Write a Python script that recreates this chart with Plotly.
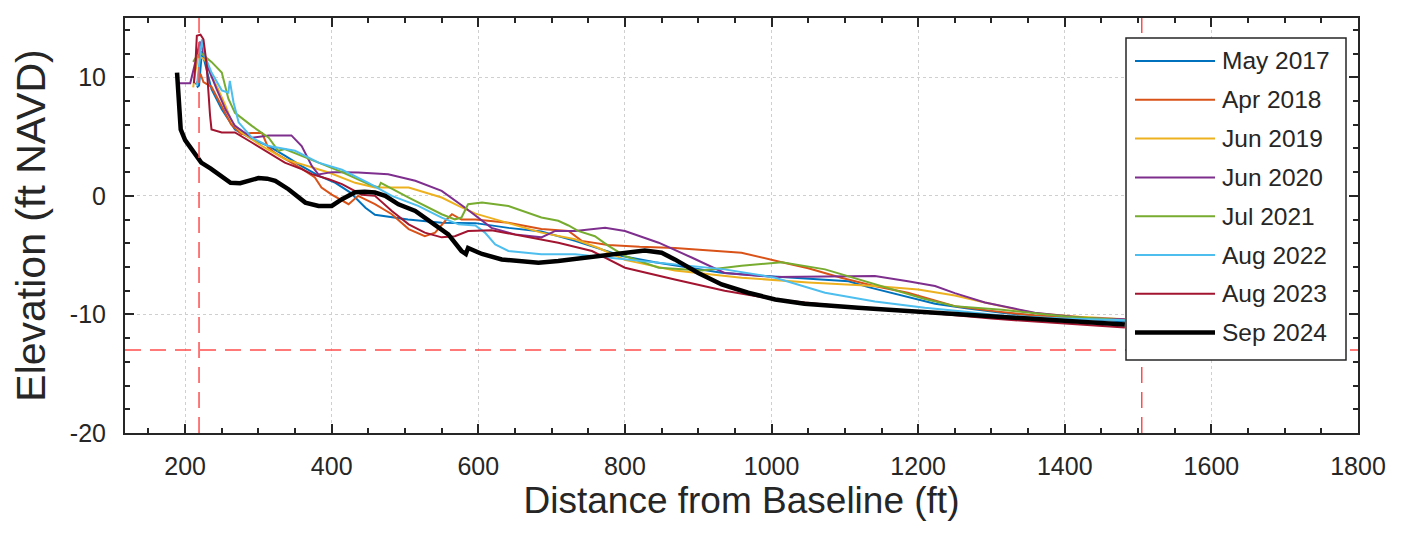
import plotly.graph_objects as go

# ---------------- data ----------------
names = ["May 2017", "Apr 2018", "Jun 2019", "Jun 2020", "Jul 2021", "Aug 2022", "Aug 2023", "Sep 2024"]
colors = ["#0072BD", "#D95319", "#EDB120", "#7E2F8E", "#77AC30", "#4DBEEE", "#A2142F", "#000000"]

may2017_x = [216, 219, 223, 228, 236, 250, 268, 291, 314, 336, 359, 382, 405, 425, 436, 446, 459, 482, 504, 550, 596, 641, 686, 732, 777, 796, 841, 886, 932, 977, 1023, 1060, 1105, 1132, 1159, 1223, 1268, 1314, 1359, 1405, 1445, 1482]
may2017_y = [9.15, 9.3, 12.2, 11.0, 9.0, 7.3, 5.6, 4.8, 4.2, 3.4, 2.5, 1.7, 1.1, 0.3, -0.4, -1.0, -1.6, -1.8, -2.0, -2.26, -2.3, -2.7, -3.0, -3.8, -4.65, -5.07, -5.6, -6.06, -6.48, -6.7, -6.9, -7.0, -7.2, -7.7, -8.1, -9.1, -9.5, -9.86, -10.1, -10.3, -10.45, -10.6]

apr2018_x = [214, 218, 221, 225, 236, 250, 263, 277, 290, 305, 313, 323, 340, 359, 377, 386, 400, 414, 423, 436, 459, 482, 505, 527, 541, 555, 564, 577, 596, 641, 686, 723, 741, 777, 820, 868, 914, 959, 1014, 1050, 1095, 1140, 1186, 1250, 1300, 1359, 1420, 1482]
apr2018_y = [9.4, 9.7, 10.3, 9.6, 9.2, 7.5, 6.0, 5.2, 5.3, 5.3, 4.1, 3.6, 3.0, 2.3, 1.55, 0.7, 0.1, -0.42, -0.7, 0.0, -0.7, -1.55, -2.8, -3.4, -3.1, -2.1, -1.55, -2.0, -2.0, -2.26, -2.8, -2.96, -3.8, -4.15, -4.3, -4.4, -4.6, -4.8, -5.6, -6.1, -6.9, -7.6, -8.17, -9.3, -9.7, -10.1, -10.3, -10.5]

jun2019_x = [211, 214, 218, 227, 236, 245, 255, 264, 277, 305, 336, 368, 396, 432, 459, 505, 550, 573, 596, 641, 686, 732, 764, 800, 868, 959, 1050, 1141, 1200, 1250, 1291, 1359, 1420, 1482]
jun2019_y = [9.15, 10.5, 11.8, 11.5, 10.1, 9.0, 7.6, 6.2, 5.35, 4.2, 3.1, 2.5, 1.97, 1.1, 0.7, 0.7, -0.14, -0.85, -1.5, -2.3, -3.1, -3.66, -4.4, -5.4, -6.3, -6.9, -7.3, -7.6, -7.9, -8.4, -9.0, -9.9, -10.2, -10.4]

jun2020_x = [189, 200, 207, 214, 220, 226, 232, 243, 255, 268, 291, 314, 345, 359, 373, 382, 400, 414, 436, 477, 514, 550, 582, 618, 650, 686, 705, 732, 773, 800, 846, 891, 936, 1005, 1095, 1141, 1186, 1223, 1250, 1291, 1359, 1427, 1482]
jun2020_y = [9.5, 9.5, 9.5, 11.3, 13.0, 12.0, 10.7, 9.0, 7.3, 5.9, 4.9, 5.1, 5.1, 4.2, 2.5, 1.8, 2.0, 2.0, 1.97, 1.83, 1.27, 0.42, -1.0, -2.7, -3.25, -3.5, -2.96, -2.96, -2.7, -2.96, -3.95, -5.2, -6.5, -6.85, -6.8, -6.76, -7.2, -7.6, -8.2, -9.0, -9.86, -10.3, -10.4]

jul2021_x = [211, 216, 222, 236, 250, 259, 268, 291, 314, 327, 336, 359, 382, 414, 450, 464, 467, 505, 550, 568, 577, 586, 605, 641, 686, 709, 723, 736, 759, 777, 800, 846, 905, 959, 1014, 1073, 1141, 1209, 1250, 1314, 1405, 1482]
jul2021_y = [11.3, 11.8, 12.0, 11.3, 10.4, 8.2, 7.0, 5.9, 4.9, 3.8, 3.95, 3.4, 2.8, 2.0, 0.99, 0.7, 1.1, -0.14, -1.55, -1.98, -1.83, -0.71, -0.57, -0.85, -1.83, -2.1, -2.5, -2.96, -3.4, -4.2, -5.07, -6.06, -6.3, -5.9, -5.6, -6.2, -7.47, -8.7, -9.3, -9.6, -10.2, -10.5]

aug2022_x = [216, 219, 223, 227, 236, 250, 259, 261, 266, 273, 291, 314, 350, 382, 414, 450, 482, 518, 550, 573, 596, 609, 623, 641, 686, 732, 777, 868, 936, 1005, 1073, 1141, 1209, 1268, 1314, 1400, 1482]
aug2022_y = [9.3, 11.0, 13.2, 11.8, 10.4, 8.9, 8.7, 9.7, 7.9, 6.2, 4.9, 4.2, 3.8, 2.8, 2.2, 1.1, 0.0, -0.85, -1.83, -2.4, -2.5, -3.1, -4.1, -4.65, -4.93, -4.93, -5.2, -5.8, -6.2, -6.9, -8.17, -8.9, -9.44, -9.8, -10.1, -10.35, -10.5]

aug2023_x = [212, 214, 216, 221, 225, 229, 234, 236, 250, 268, 291, 314, 336, 359, 373, 396, 414, 441, 459, 482, 505, 527, 550, 568, 586, 618, 664, 709, 755, 800, 868, 936, 1005, 1095, 1186, 1250, 1300, 1359, 1420, 1482]
aug2023_y = [9.5, 11.0, 13.5, 13.6, 13.2, 11.3, 6.8, 5.6, 5.35, 5.35, 4.5, 3.66, 2.8, 2.25, 1.83, 1.4, 0.99, 0.1, 0.0, -1.27, -2.4, -3.1, -3.5, -3.4, -2.96, -2.9, -3.4, -3.95, -4.65, -6.06, -7.05, -8.0, -8.74, -9.3, -9.72, -10.1, -10.35, -10.6, -10.85, -11.1]

sep2024_x = [189, 191, 194, 200, 210, 222, 235, 250, 262, 275, 286, 300, 312, 323, 341, 364, 382, 400, 414, 432, 445, 459, 473, 491, 514, 536, 559, 577, 583, 586, 605, 632, 659, 682, 709, 741, 777, 800, 827, 850, 868, 900, 932, 968, 1005, 1045, 1080, 1118, 1186, 1250, 1300, 1359, 1420, 1482]
sep2024_y = [10.4, 8.5, 5.6, 4.7, 3.9, 2.8, 2.3, 1.6, 1.1, 1.07, 1.27, 1.5, 1.45, 1.27, 0.56, -0.57, -0.85, -0.85, -0.28, 0.3, 0.35, 0.28, 0.0, -0.71, -1.27, -2.26, -3.25, -4.65, -4.9, -4.4, -4.9, -5.36, -5.5, -5.64, -5.5, -5.27, -4.93, -4.75, -4.6, -4.8, -5.36, -6.5, -7.47, -8.17, -8.74, -9.1, -9.3, -9.44, -9.72, -9.95, -10.15, -10.43, -10.65, -10.85]

series_x = [may2017_x, apr2018_x, jun2019_x, jun2020_x, jul2021_x, aug2022_x, aug2023_x, sep2024_x]
series_y = [may2017_y, apr2018_y, jun2019_y, jun2020_y, jul2021_y, aug2022_y, aug2023_y, sep2024_y]
widths = [2, 2, 2, 2, 2, 2, 2, 4.5]

# reference lines
ref_x_lines = [219, 1505]
ref_y_lines = [-13]

x_ticks = [200, 400, 600, 800, 1000, 1200, 1400, 1600, 1800]
x_labels = ["200", "400", "600", "800", "1000", "1200", "1400", "1600", "1800"]
y_ticks = [-20, -10, 0, 10]
y_labels = ["-20", "-10", "0", "10"]

# ---------------- figure ----------------
FONT = "Liberation Sans, Arial, sans-serif"
TXT = "#262626"
W, H = 1408, 541
ML, MR, MT, MB = 117, 58, 10, 116
PW, PH = W - ML - MR, H - MT - MB


def px_x(p):
    return (p - ML) / PW


def px_y(p):
    return 1 - (p - MT) / PH


fig = go.Figure()
for name, c, xs, ys, w in zip(names, colors, series_x, series_y, widths):
    fig.add_trace(go.Scatter(x=xs, y=ys, mode="lines", name=name,
                             line=dict(color=c, width=w), showlegend=False))

for xv in ref_x_lines:
    fig.add_vline(x=xv, line=dict(color="#FF4D4D", width=1.5, dash="16px,9px"), layer="above")
for yv in ref_y_lines:
    fig.add_hline(y=yv, line=dict(color="#FF4D4D", width=1.5, dash="16px,9px"), layer="above")

# legend box (drawn as a boxed key, MATLAB style)
fig.add_shape(type="rect", xref="paper", yref="paper",
              x0=px_x(1118), x1=px_x(1338), y0=px_y(352), y1=px_y(30),
              fillcolor="white", line=dict(color=TXT, width=1.5), layer="above")
for i, (name, c, w) in enumerate(zip(names, colors, widths)):
    yc = px_y(53 + i * 38.8)
    fig.add_shape(type="line", xref="paper", yref="paper",
                  x0=px_x(1127), x1=px_x(1207), y0=yc, y1=yc,
                  line=dict(color=c, width=w), layer="above")
    fig.add_annotation(xref="paper", yref="paper", x=px_x(1212), y=yc,
                       text=name, showarrow=False, xanchor="left", yanchor="middle",
                       font=dict(size=24.5, color=TXT, family=FONT))

axis_common = dict(
    ticks="inside", ticklen=9, tickwidth=1.5, tickcolor=TXT,
    showline=True, linewidth=2, linecolor=TXT, mirror="allticks",
    showgrid=True, gridcolor="#cfcfcf", griddash="dot", gridwidth=1.2,
    zeroline=False, tickfont=dict(size=25, color=TXT, family=FONT),
)

fig.update_xaxes(range=[118, 1800], tickvals=x_ticks, ticktext=x_labels, ticklabelstandoff=10,
                 minor=dict(tick0=0, dtick=50, ticks="inside", ticklen=5, tickcolor=TXT, showgrid=False),
                 title=dict(text="Distance from Baseline (ft)", font=dict(size=37, color=TXT, family=FONT), standoff=0),
                 **axis_common)
fig.update_yaxes(range=[-20, 15], tickvals=y_ticks, ticktext=y_labels, ticklabelstandoff=12,
                 minor=dict(tick0=0, dtick=2, ticks="inside", ticklen=5, tickcolor=TXT, showgrid=False),
                 title=dict(text="Elevation (ft NAVD)", font=dict(size=41, color=TXT, family=FONT), standoff=13),
                 **axis_common)

fig.update_layout(
    width=W, height=H,
    margin=dict(l=ML, r=MR, t=MT, b=MB, autoexpand=False),
    paper_bgcolor="white", plot_bgcolor="white",
    font=dict(family=FONT, color=TXT),
    showlegend=False,
)

fig.write_html("out.html")
